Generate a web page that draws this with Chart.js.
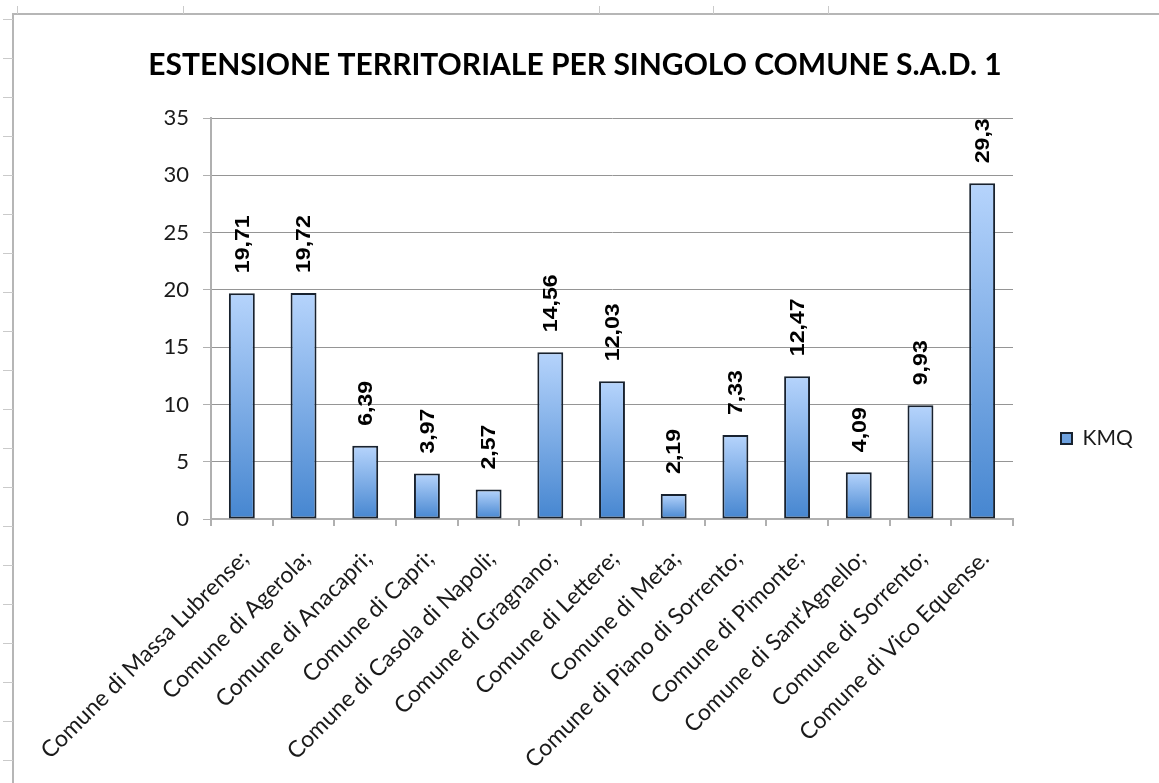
<!DOCTYPE html>
<html>
<head>
<meta charset="utf-8">
<script src="https://cdn.jsdelivr.net/npm/chart.js@4.4.1/dist/chart.umd.min.js"></script>
<style>
  html, body { margin: 0; padding: 0; background: #ffffff; }
  body { width: 1159px; height: 783px; position: relative; overflow: hidden; }
  #frame { position: absolute; left: 12px; top: 13px; width: 1147px; height: 770px;
           border-left: 2px solid #b6b6b6; border-top: 2px solid #b6b6b6; }
  #wrap { position: absolute; left: 14px; top: 15px; width: 1122px; height: 768px; }
  .rm { position: absolute; left: 3px; width: 10px; height: 1px; background: #cacaca; }
  .cm { position: absolute; top: 6px; width: 1px; height: 8px; background: #cacaca; }
</style>
</head>
<body>
<div id="frame"></div>
<div id="wrap"><canvas id="c" width="1122" height="768"></canvas></div>
<script>
// ---- data ----
const categories = [
  "Comune di Massa Lubrense;",
  "Comune di Agerola;",
  "Comune di Anacapri;",
  "Comune di Capri;",
  "Comune di Casola di Napoli;",
  "Comune di Gragnano;",
  "Comune di Lettere;",
  "Comune di Meta;",
  "Comune di Piano di Sorrento;",
  "Comune di Pimonte;",
  "Comune di Sant'Agnello;",
  "Comune di Sorrento;",
  "Comune di Vico Equense."
];
const kmq = [19.71, 19.72, 6.39, 3.97, 2.57, 14.56, 12.03, 2.19, 7.33, 12.47, 4.09, 9.93, 29.3];
const seriesName = "KMQ";
const chartTitle = "ESTENSIONE TERRITORIALE PER SINGOLO COMUNE S.A.D. 1";
const yMin = 0, yMax = 35, yStep = 5;

// ---- spreadsheet decoration (row / column marks) ----
for (let k = 0; k < 20; k++) {
  const d = document.createElement('div'); d.className = 'rm'; d.style.top = (19 + 39 * k) + 'px';
  document.body.appendChild(d);
}
[17, 183, 599, 713, 828].forEach(x => {
  const d = document.createElement('div'); d.className = 'cm'; d.style.left = x + 'px';
  document.body.appendChild(d);
});

const fmt = v => String(v).replace('.', ',');

const valueLabels = {
  id: 'valueLabels',
  afterDatasetsDraw(chart) {
    const ctx = chart.ctx;
    const meta = chart.getDatasetMeta(0);
    ctx.save();
    ctx.font = 'bold 21px "Liberation Sans", Arial, sans-serif';
    ctx.fillStyle = '#000000';
    ctx.textAlign = 'left';
    ctx.textBaseline = 'middle';
    meta.data.forEach((bar, i) => {
      ctx.save();
      ctx.translate(bar.x + 1, bar.y - 20);
      ctx.rotate(-Math.PI / 2);
      ctx.scale(1.1, 1);
      ctx.fillText(fmt(kmq[i]), 0, 0);
      ctx.restore();
    });
    ctx.restore();
  }
};

function barGradient(c) {
  const chart = c.chart;
  if (!chart.chartArea || c.dataIndex === undefined || !chart.scales.y) return '#7eaee8';
  const y = chart.scales.y;
  const top = y.getPixelForValue(kmq[c.dataIndex]);
  const bottom = y.getPixelForValue(0);
  const g = chart.ctx.createLinearGradient(0, top, 0, bottom);
  g.addColorStop(0, '#b6d4fc');
  g.addColorStop(1, '#4686d0');
  return g;
}

new Chart(document.getElementById('c'), {
  type: 'bar',
  data: {
    labels: categories,
    datasets: [{
      label: seriesName,
      data: kmq,
      backgroundColor: barGradient,
      borderColor: '#18222f',
      borderWidth: 2,
      borderSkipped: false,
      barPercentage: 0.42,
      categoryPercentage: 1.0
    }]
  },
  options: {
    responsive: false,
    devicePixelRatio: 1,
    animation: false,
    layout: { padding: 0 },
    plugins: {
      title: {
        display: true,
        text: chartTitle,
        color: '#000000',
        font: { family: 'Lato', size: 30, weight: 'bold' },
        padding: { top: 32, bottom: 35 }
      },
      legend: {
        position: 'right',
        align: 'start',
        maxWidth: 123,
        title: { display: true, text: ' ', font: { size: 10 }, padding: { top: 353, bottom: 0 } },
        labels: {
          boxWidth: 11, boxHeight: 11, padding: 48,
          color: '#1a1a1a',
          font: { family: 'Lato', size: 21 }
        }
      },
      tooltip: { enabled: false }
    },
    scales: {
      y: {
        min: yMin, max: yMax,
        ticks: { stepSize: yStep, color: '#1a1a1a', font: { family: 'Lato', size: 22 }, padding: 14 },
        grid: { color: '#959595', lineWidth: 1, tickLength: 8, tickColor: '#b0b0b0' },
        border: { color: '#b0b0b0', width: 2 },
        afterFit: s => { s.width = 197; }
      },
      x: {
        offset: true,
        ticks: { color: '#1a1a1a', font: { family: 'Lato', size: 23 }, minRotation: 45, maxRotation: 45,
                 autoSkip: false, padding: 19, labelOffset: 3 },
        grid: { offset: true, drawOnChartArea: false, drawTicks: true, tickLength: 7, color: '#b0b0b0', lineWidth: 2 },
        border: { color: '#b0b0b0', width: 2 },
        afterFit: s => { s.height = 264; }
      }
    }
  },
  plugins: [valueLabels]
});
</script>
</body>
</html>
